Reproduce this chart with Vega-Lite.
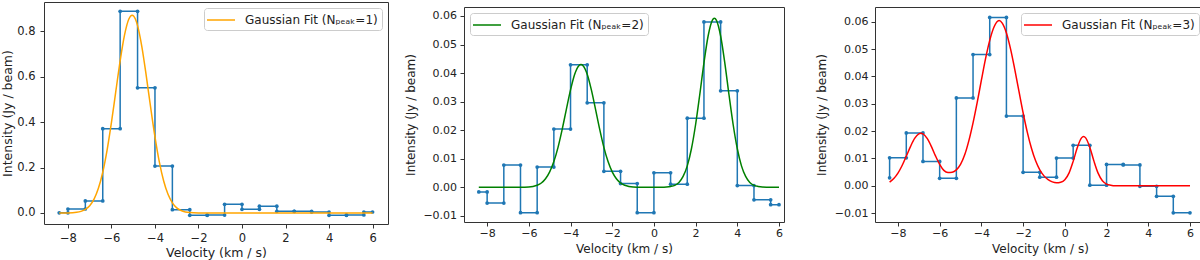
{
  "$schema": "https://vega.github.io/schema/vega-lite/v6.json",
  "padding": {"left": 1, "top": 1, "right": 0, "bottom": 0},
  "config": {
    "font": "DejaVu Sans",
    "view": {"stroke": "#333333", "strokeWidth": 1},
    "axis": {"domain": false, "grid": false, "labelFont": "DejaVu Sans", "titleFont": "DejaVu Sans", "labelColor": "#222222", "titleColor": "#222222", "tickColor": "#333333", "tickSize": 4, "titleFontWeight": "normal", "labelFontSize": 11, "titleFontSize": 12, "labelFlush": false, "labelOverlap": false},
    "legend": {"title": null, "offset": 6, "fillColor": "#ffffff", "strokeColor": "#cccccc", "padding": 4, "cornerRadius": 3, "labelFont": "DejaVu Sans", "labelFontSize": 12, "labelColor": "#222222", "labelLimit": 400, "symbolType": "M-2,0L2,0", "symbolSize": 196, "symbolStrokeWidth": 1.5, "symbolOffset": 5, "labelOffset": 16}
  },
  "datasets": {
    "step1": [{"x":-8.4,"y":0.001},{"x":-8.0,"y":0.001},{"x":-8.0,"y":0.0176},{"x":-7.2,"y":0.0176},{"x":-7.2,"y":0.053},{"x":-6.4,"y":0.053},{"x":-6.4,"y":0.3715},{"x":-5.6,"y":0.3715},{"x":-5.6,"y":0.889},{"x":-4.8,"y":0.889},{"x":-4.8,"y":0.552},{"x":-4.0,"y":0.552},{"x":-4.0,"y":0.207},{"x":-3.2,"y":0.207},{"x":-3.2,"y":0.0146},{"x":-2.4,"y":0.0146},{"x":-2.4,"y":-0.0103},{"x":-1.6,"y":-0.0103},{"x":-1.6,"y":-0.009},{"x":-0.8,"y":-0.009},{"x":-0.8,"y":0.0383},{"x":0,"y":0.0383},{"x":0,"y":0.0162},{"x":0.8,"y":0.0162},{"x":0.8,"y":0.03},{"x":1.6,"y":0.03},{"x":1.6,"y":0.0075},{"x":2.4,"y":0.0075},{"x":2.4,"y":0.0072},{"x":3.2,"y":0.0072},{"x":3.2,"y":0.004},{"x":4.0,"y":0.004},{"x":4.0,"y":-0.0103},{"x":4.8,"y":-0.0103},{"x":4.8,"y":-0.0085},{"x":5.6,"y":-0.0085},{"x":5.6,"y":0.0044},{"x":6.0,"y":0.0044}],
    "fit1": [{"x":-8.4,"y":0.0001},{"x":-8.0,"y":0.0005},{"x":-7.6,"y":0.0031},{"x":-7.4,"y":0.0073},{"x":-7.2,"y":0.0159},{"x":-7.0,"y":0.0323},{"x":-6.8,"y":0.0614},{"x":-6.6,"y":0.1087},{"x":-6.4,"y":0.1797},{"x":-6.2,"y":0.2773},{"x":-6.0,"y":0.399},{"x":-5.8,"y":0.5357},{"x":-5.6,"y":0.671},{"x":-5.4,"y":0.784},{"x":-5.2,"y":0.855},{"x":-5.05,"y":0.872},{"x":-4.9,"y":0.855},{"x":-4.8,"y":0.826},{"x":-4.6,"y":0.7316},{"x":-4.4,"y":0.6046},{"x":-4.2,"y":0.4663},{"x":-4.0,"y":0.3355},{"x":-3.8,"y":0.2251},{"x":-3.6,"y":0.141},{"x":-3.4,"y":0.0824},{"x":-3.2,"y":0.0449},{"x":-3.0,"y":0.0228},{"x":-2.8,"y":0.0108},{"x":-2.6,"y":0.0048},{"x":-2.4,"y":0.002},{"x":-2.0,"y":0.0003},{"x":-1.6,"y":0},{"x":6.0,"y":0}],
    "step2": [{"x":-8.4,"y":-0.0016},{"x":-8.0,"y":-0.0016},{"x":-8.0,"y":-0.0055},{"x":-7.2,"y":-0.0055},{"x":-7.2,"y":0.0078},{"x":-6.4,"y":0.0078},{"x":-6.4,"y":-0.0089},{"x":-5.6,"y":-0.0089},{"x":-5.6,"y":0.0071},{"x":-4.8,"y":0.0071},{"x":-4.8,"y":0.0204},{"x":-4.0,"y":0.0204},{"x":-4.0,"y":0.0429},{"x":-3.2,"y":0.0429},{"x":-3.2,"y":0.0296},{"x":-2.4,"y":0.0296},{"x":-2.4,"y":0.0056},{"x":-1.6,"y":0.0056},{"x":-1.6,"y":0.0013},{"x":-0.8,"y":0.0013},{"x":-0.8,"y":-0.0089},{"x":0,"y":-0.0089},{"x":0,"y":0.0051},{"x":0.8,"y":0.0051},{"x":0.8,"y":0.0011},{"x":1.6,"y":0.0011},{"x":1.6,"y":0.0242},{"x":2.4,"y":0.0242},{"x":2.4,"y":0.0579},{"x":3.2,"y":0.0579},{"x":3.2,"y":0.0338},{"x":4.0,"y":0.0338},{"x":4.0,"y":0.0006},{"x":4.8,"y":0.0006},{"x":4.8,"y":-0.0044},{"x":5.6,"y":-0.0044},{"x":5.6,"y":-0.0061},{"x":6.0,"y":-0.0061}],
    "fit2": [{"x":-8.4,"y":0},{"x":-6.4,"y":0},{"x":-6.0,"y":0.0001},{"x":-5.8,"y":0.0003},{"x":-5.6,"y":0.0007},{"x":-5.4,"y":0.0015},{"x":-5.2,"y":0.003},{"x":-5.0,"y":0.0054},{"x":-4.8,"y":0.009},{"x":-4.6,"y":0.014},{"x":-4.4,"y":0.0203},{"x":-4.2,"y":0.0273},{"x":-4.0,"y":0.0341},{"x":-3.8,"y":0.0396},{"x":-3.6,"y":0.0426},{"x":-3.5,"y":0.043},{"x":-3.4,"y":0.0426},{"x":-3.2,"y":0.0396},{"x":-3.0,"y":0.0341},{"x":-2.8,"y":0.0273},{"x":-2.6,"y":0.0203},{"x":-2.4,"y":0.014},{"x":-2.2,"y":0.009},{"x":-2.0,"y":0.0054},{"x":-1.8,"y":0.003},{"x":-1.6,"y":0.0015},{"x":-1.4,"y":0.0007},{"x":-1.2,"y":0.0003},{"x":-1.0,"y":0.0001},{"x":-0.6,"y":0},{"x":0.4,"y":0},{"x":0.6,"y":0.0001},{"x":0.8,"y":0.0003},{"x":1.0,"y":0.0007},{"x":1.2,"y":0.0017},{"x":1.4,"y":0.0038},{"x":1.6,"y":0.0075},{"x":1.8,"y":0.0135},{"x":2.0,"y":0.022},{"x":2.2,"y":0.0325},{"x":2.4,"y":0.0436},{"x":2.6,"y":0.053},{"x":2.8,"y":0.0585},{"x":2.9,"y":0.0592},{"x":3.0,"y":0.0585},{"x":3.2,"y":0.053},{"x":3.4,"y":0.0436},{"x":3.6,"y":0.0325},{"x":3.8,"y":0.022},{"x":4.0,"y":0.0135},{"x":4.2,"y":0.0075},{"x":4.4,"y":0.0038},{"x":4.6,"y":0.0017},{"x":4.8,"y":0.0007},{"x":5.0,"y":0.0003},{"x":5.2,"y":0.0001},{"x":5.6,"y":0},{"x":6.0,"y":0}],
    "step3": [{"x":-8.4,"y":0.0029},{"x":-8.4,"y":0.0102},{"x":-7.6,"y":0.0102},{"x":-7.6,"y":0.0193},{"x":-6.8,"y":0.0193},{"x":-6.8,"y":0.0089},{"x":-6.0,"y":0.0089},{"x":-6.0,"y":0.0027},{"x":-5.2,"y":0.0027},{"x":-5.2,"y":0.0321},{"x":-4.4,"y":0.0321},{"x":-4.4,"y":0.048},{"x":-3.6,"y":0.048},{"x":-3.6,"y":0.0616},{"x":-2.8,"y":0.0616},{"x":-2.8,"y":0.0255},{"x":-2.0,"y":0.0255},{"x":-2.0,"y":0.0049},{"x":-1.2,"y":0.0049},{"x":-1.2,"y":0.0031},{"x":-0.4,"y":0.0031},{"x":-0.4,"y":0.0101},{"x":0.4,"y":0.0101},{"x":0.4,"y":0.0148},{"x":1.2,"y":0.0148},{"x":1.2,"y":0.0002},{"x":2.0,"y":0.0002},{"x":2.0,"y":0.0078},{"x":2.8,"y":0.0078},{"x":2.8,"y":0.0076},{"x":3.6,"y":0.0076},{"x":3.6,"y":-0.0002},{"x":4.4,"y":-0.0002},{"x":4.4,"y":-0.0039},{"x":5.2,"y":-0.0039},{"x":5.2,"y":-0.0099},{"x":6.0,"y":-0.0099}],
    "fit3": [{"x":-8.4,"y":0.0013},{"x":-8.2,"y":0.0026},{"x":-8.0,"y":0.0046},{"x":-7.8,"y":0.0074},{"x":-7.6,"y":0.0108},{"x":-7.4,"y":0.0143},{"x":-7.2,"y":0.0173},{"x":-7.0,"y":0.019},{"x":-6.9,"y":0.0192},{"x":-6.8,"y":0.019},{"x":-6.6,"y":0.0173},{"x":-6.4,"y":0.0144},{"x":-6.2,"y":0.0109},{"x":-6.0,"y":0.0078},{"x":-5.8,"y":0.0056},{"x":-5.6,"y":0.0048},{"x":-5.4,"y":0.0049},{"x":-5.2,"y":0.0058},{"x":-5.0,"y":0.0078},{"x":-4.8,"y":0.0113},{"x":-4.6,"y":0.0165},{"x":-4.4,"y":0.023},{"x":-4.2,"y":0.0305},{"x":-4.0,"y":0.0386},{"x":-3.8,"y":0.0465},{"x":-3.6,"y":0.0532},{"x":-3.4,"y":0.058},{"x":-3.15,"y":0.0605},{"x":-3.0,"y":0.0595},{"x":-2.8,"y":0.0559},{"x":-2.6,"y":0.05},{"x":-2.4,"y":0.0426},{"x":-2.2,"y":0.0346},{"x":-2.0,"y":0.0267},{"x":-1.8,"y":0.0196},{"x":-1.6,"y":0.0137},{"x":-1.4,"y":0.0091},{"x":-1.2,"y":0.0058},{"x":-1.0,"y":0.0036},{"x":-0.8,"y":0.0022},{"x":-0.6,"y":0.0014},{"x":-0.4,"y":0.0011},{"x":-0.2,"y":0.0013},{"x":0.0,"y":0.0022},{"x":0.2,"y":0.0046},{"x":0.4,"y":0.0089},{"x":0.6,"y":0.014},{"x":0.8,"y":0.0175},{"x":0.9,"y":0.018},{"x":1.0,"y":0.0175},{"x":1.2,"y":0.014},{"x":1.4,"y":0.0089},{"x":1.6,"y":0.0045},{"x":1.8,"y":0.0018},{"x":2.0,"y":0.0006},{"x":2.2,"y":0.0002},{"x":2.4,"y":0},{"x":6.0,"y":0}]
  },
  "spacing": 15,
  "resolve": {"scale": {"x": "independent", "y": "independent", "color": "independent"}, "legend": {"color": "independent"}},
  "hconcat": [
    {
      "width": 344, "height": 222,
      "encoding": {
        "x": {"field": "x", "type": "quantitative", "scale": {"domain": [-9.1, 6.71], "nice": false, "zero": false},
              "axis": {"values": [-8, -6, -4, -2, 0, 2, 4, 6], "title": "Velocity (km / s)", "labelFontSize": 11.5, "titleFontSize": 12.5, "labelPadding": 4, "titlePadding": 3}},
        "y": {"field": "y", "type": "quantitative", "scale": {"domain": [-0.0485, 0.93], "nice": false, "zero": false},
              "axis": {"values": [0, 0.2, 0.4, 0.6, 0.8], "format": ".1f", "title": "Intensity (Jy / beam)", "labelFontSize": 11.5, "titleFontSize": 12.5, "labelPadding": 5, "titlePadding": 2}}
      },
      "layer": [
        {"data": {"name": "step1"}, "mark": {"type": "line", "color": "#1f77b4", "strokeWidth": 1.5}},
        {"data": {"name": "step1"}, "mark": {"type": "point", "filled": true, "size": 14, "color": "#1f77b4", "opacity": 1}},
        {"data": {"name": "fit1"}, "mark": {"type": "line", "strokeWidth": 1.5, "interpolate": "monotone"},
         "encoding": {"color": {"datum": "Gaussian Fit (Nₚₑₐₖ=1)", "type": "nominal", "scale": {"range": ["#ffa500"]}, "legend": {"orient": "top-right"}}}}
      ]
    },
    {
      "spacing": 3,
      "resolve": {"scale": {"x": "independent", "y": "independent", "color": "independent"}, "legend": {"color": "independent"}},
      "vconcat": [
        {"width": 10, "height": 1, "data": {"values": []}, "mark": "point", "view": {"stroke": null}},
        {
          "spacing": 30,
          "resolve": {"scale": {"x": "independent", "y": "independent", "color": "independent"}, "legend": {"color": "independent"}},
          "hconcat": [
            {
              "width": 320, "height": 215,
              "encoding": {
                "x": {"field": "x", "type": "quantitative", "scale": {"domain": [-9.11, 6.24], "nice": false, "zero": false},
                      "axis": {"values": [-8, -6, -4, -2, 0, 2, 4, 6], "title": "Velocity (km / s)", "labelPadding": 1, "titlePadding": 5}},
                "y": {"field": "y", "type": "quantitative", "scale": {"domain": [-0.01215, 0.06315], "nice": false, "zero": false},
                      "axis": {"values": [-0.01, 0, 0.01, 0.02, 0.03, 0.04, 0.05, 0.06], "format": ".2f", "title": "Intensity (Jy / beam)", "labelPadding": 3.4, "titlePadding": 5}}
              },
              "layer": [
                {"data": {"name": "step2"}, "mark": {"type": "line", "color": "#1f77b4", "strokeWidth": 1.5}},
                {"data": {"name": "step2"}, "mark": {"type": "point", "filled": true, "size": 14, "color": "#1f77b4", "opacity": 1}},
                {"data": {"name": "fit2"}, "mark": {"type": "line", "strokeWidth": 1.5, "interpolate": "monotone"},
                 "encoding": {"color": {"datum": "Gaussian Fit (Nₚₑₐₖ=2)", "type": "nominal", "scale": {"range": ["#008000"]}, "legend": {"orient": "top-left"}}}}
              ]
            },
            {
              "width": 330, "height": 215,
              "encoding": {
                "x": {"field": "x", "type": "quantitative", "scale": {"domain": [-9.1, 6.72], "nice": false, "zero": false},
                      "axis": {"values": [-8, -6, -4, -2, 0, 2, 4, 6], "title": "Velocity (km / s)", "labelPadding": 1, "titlePadding": 5}},
                "y": {"field": "y", "type": "quantitative", "scale": {"domain": [-0.01328, 0.0654], "nice": false, "zero": false},
                      "axis": {"values": [-0.01, 0, 0.01, 0.02, 0.03, 0.04, 0.05, 0.06], "format": ".2f", "title": "Intensity (Jy / beam)", "labelPadding": 3, "titlePadding": 5.5}}
              },
              "layer": [
                {"data": {"name": "step3"}, "mark": {"type": "line", "color": "#1f77b4", "strokeWidth": 1.5}},
                {"data": {"name": "step3"}, "mark": {"type": "point", "filled": true, "size": 14, "color": "#1f77b4", "opacity": 1}},
                {"data": {"name": "fit3"}, "mark": {"type": "line", "strokeWidth": 1.5, "interpolate": "monotone"},
                 "encoding": {"color": {"datum": "Gaussian Fit (Nₚₑₐₖ=3)", "type": "nominal", "scale": {"range": ["#ff0000"]}, "legend": {"orient": "top-right"}}}}
              ]
            }
          ]
        }
      ]
    }
  ]
}
